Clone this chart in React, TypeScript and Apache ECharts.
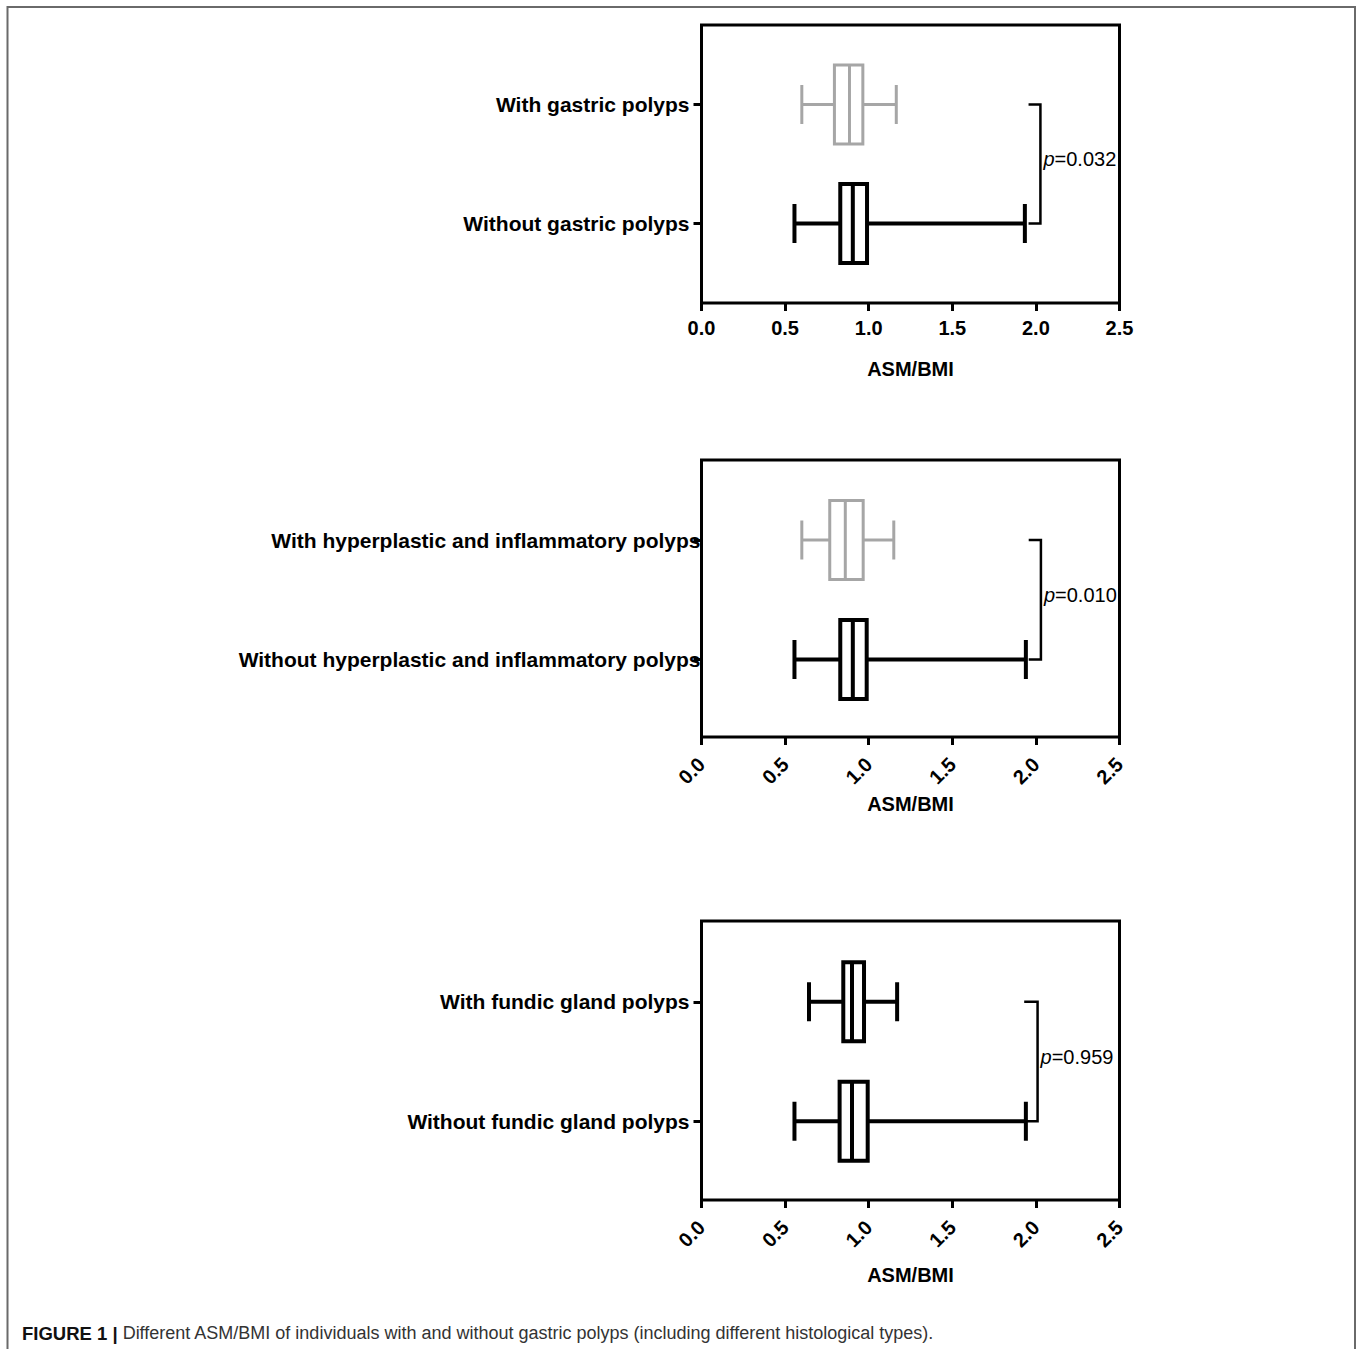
import React, { useEffect, useRef } from "react";
import * as echarts from "echarts";

// ---------- data ----------
const xTicks = [0, 0.5, 1.0, 1.5, 2.0, 2.5];
const xAxisTitle = "ASM/BMI";

const categories1 = ["With gastric polyps", "Without gastric polyps"];
const categories2 = [
  "With hyperplastic and inflammatory polyps",
  "Without hyperplastic and inflammatory polyps",
];
const categories3 = ["With fundic gland polyps", "Without fundic gland polyps"];

// [min, q1, median, q3, max]
const box1With = [0.6, 0.795, 0.885, 0.965, 1.165];
const box1Without = [0.556, 0.83, 0.905, 0.99, 1.934];
const box2With = [0.6, 0.767, 0.86, 0.967, 1.15];
const box2Without = [0.556, 0.83, 0.905, 0.988, 1.94];
const box3With = [0.643, 0.848, 0.9, 0.972, 1.17];
const box3Without = [0.556, 0.826, 0.9, 0.994, 1.94];

// bracket x extent [start, end] and p values
const bracket1 = [1.956, 2.027];
const bracket2 = [1.957, 2.03];
const bracket3 = [1.93, 2.01];
const pValues = ["0.032", "0.010", "0.959"];

const captionBold = "FIGURE 1 |";
const captionText =
  " Different ASM/BMI of individuals with and without gastric polyps (including different histological types).";

// ---------- layout ----------
const FONT = "'Liberation Sans', Arial, Helvetica, sans-serif";
const GRAY = "#a6a6a6";
const BLACK = "#000000";

const panels = [
  {
    cats: categories1,
    boxes: [
      { d: box1With, color: GRAY, lw: 3 },
      { d: box1Without, color: BLACK, lw: 4 },
    ],
    bracket: bracket1,
    p: pValues[0],
    frame: { x: 701.5, y: 25, w: 418, h: 278 },
    gridTop: 45,
    gridH: 238,
    rotate: 0,
    labelMargin: 15,
    yLabelMargin: 12,
    nameGap: 56,
  },
  {
    cats: categories2,
    boxes: [
      { d: box2With, color: GRAY, lw: 3 },
      { d: box2Without, color: BLACK, lw: 4 },
    ],
    bracket: bracket2,
    p: pValues[1],
    frame: { x: 701.5, y: 460, w: 418, h: 277 },
    gridTop: 480.25,
    gridH: 239,
    rotate: 45,
    labelMargin: 24,
    yLabelMargin: 1,
    nameGap: 57,
  },
  {
    cats: categories3,
    boxes: [
      { d: box3With, color: BLACK, lw: 4 },
      { d: box3Without, color: BLACK, lw: 4 },
    ],
    bracket: bracket3,
    p: pValues[2],
    frame: { x: 701.5, y: 921, w: 418, h: 279 },
    gridTop: 942,
    gridH: 239,
    rotate: 45,
    labelMargin: 24,
    yLabelMargin: 12,
    nameGap: 65,
  },
];

function makeBoxRender(color: string, lw: number) {
  return (params: any, api: any) => {
    const cat = api.value(0);
    const pMin = api.coord([api.value(1), cat]);
    const pQ1 = api.coord([api.value(2), cat]);
    const pMed = api.coord([api.value(3), cat]);
    const pQ3 = api.coord([api.value(4), cat]);
    const pMax = api.coord([api.value(5), cat]);
    const y = pMin[1];
    const bh = 39.5;
    const ch = 19.5;
    const st = { stroke: color, lineWidth: lw, fill: null };
    return {
      type: "group",
      children: [
        { type: "line", shape: { x1: pMin[0], y1: y, x2: pQ1[0], y2: y }, style: st },
        { type: "line", shape: { x1: pQ3[0], y1: y, x2: pMax[0], y2: y }, style: st },
        { type: "line", shape: { x1: pMin[0], y1: y - ch, x2: pMin[0], y2: y + ch }, style: st },
        { type: "line", shape: { x1: pMax[0], y1: y - ch, x2: pMax[0], y2: y + ch }, style: st },
        {
          type: "rect",
          shape: { x: pQ1[0], y: y - bh, width: pQ3[0] - pQ1[0], height: 2 * bh },
          style: { stroke: color, lineWidth: lw, fill: "#ffffff" },
        },
        { type: "line", shape: { x1: pMed[0], y1: y - bh, x2: pMed[0], y2: y + bh }, style: st },
      ],
    };
  };
}

function makeBracketRender(p: string) {
  return (params: any, api: any) => {
    const a = api.coord([api.value(0), 0]);
    const b = api.coord([api.value(1), 0]);
    const c = api.coord([api.value(1), 1]);
    const d = api.coord([api.value(0), 1]);
    return {
      type: "group",
      children: [
        {
          type: "polyline",
          shape: { points: [a, b, c, d] },
          style: { stroke: BLACK, lineWidth: 2.5, fill: null },
        },
        {
          type: "text",
          style: {
            x: b[0] + 3,
            y: (b[1] + c[1]) / 2 - 5,
            text: "{i|p}=" + p,
            rich: { i: { fontStyle: "italic", fontSize: 20, fontFamily: FONT, fill: BLACK } },
            fontSize: 20,
            fontFamily: FONT,
            fill: BLACK,
            verticalAlign: "middle",
            align: "left",
          },
        },
      ],
    };
  };
}

export default function App() {
  const ref = useRef<HTMLDivElement>(null);

  useEffect(() => {
    if (!ref.current) return;
    const chart = echarts.init(ref.current, undefined, { renderer: "svg" });

    const grids: any[] = [];
    const xAxes: any[] = [];
    const yAxes: any[] = [];
    const series: any[] = [];
    const graphics: any[] = [];

    panels.forEach((pn, i) => {
      grids.push({
        left: pn.frame.x,
        top: pn.gridTop,
        width: pn.frame.w,
        height: pn.gridH,
        containLabel: false,
      });
      const gridBottom = pn.gridTop + pn.gridH;
      xAxes.push({
        gridIndex: i,
        type: "value",
        min: xTicks[0],
        max: xTicks[xTicks.length - 1],
        interval: xTicks[1] - xTicks[0],
        offset: pn.frame.y + pn.frame.h - gridBottom,
        axisLine: { show: false },
        axisTick: { show: true, length: 8, lineStyle: { color: BLACK, width: 3 } },
        splitLine: { show: false },
        axisLabel: {
          show: true,
          showMinLabel: true,
          showMaxLabel: true,
          rotate: pn.rotate,
          margin: pn.labelMargin,
          fontFamily: FONT,
          fontWeight: "bold",
          fontSize: 20,
          color: BLACK,
          formatter: (v: number) => v.toFixed(1),
        },
        name: xAxisTitle,
        nameLocation: "middle",
        nameGap: pn.nameGap,
        nameTextStyle: { fontFamily: FONT, fontWeight: "bold", fontSize: 20, color: BLACK },
      });
      yAxes.push({
        gridIndex: i,
        type: "category",
        data: pn.cats,
        inverse: true,
        axisLine: { show: false },
        axisTick: { show: true, alignWithLabel: true, length: 8, lineStyle: { color: BLACK, width: 3 } },
        splitLine: { show: false },
        axisLabel: {
          margin: pn.yLabelMargin,
          fontFamily: FONT,
          fontWeight: "bold",
          fontSize: 21,
          color: BLACK,
        },
      });
      pn.boxes.forEach((bx, k) => {
        series.push({
          type: "custom",
          xAxisIndex: i,
          yAxisIndex: i,
          renderItem: makeBoxRender(bx.color, bx.lw),
          encode: { x: [1, 2, 3, 4, 5], y: 0 },
          data: [[k, ...bx.d]],
          silent: true,
          z: 3,
        });
      });
      series.push({
        type: "custom",
        xAxisIndex: i,
        yAxisIndex: i,
        renderItem: makeBracketRender(pn.p),
        encode: { x: [0, 1] },
        data: [[pn.bracket[0], pn.bracket[1]]],
        silent: true,
        clip: false,
        z: 3,
      });
      graphics.push({
        type: "rect",
        shape: { x: pn.frame.x, y: pn.frame.y, width: pn.frame.w, height: pn.frame.h },
        style: { stroke: BLACK, lineWidth: 3, fill: null },
        z: 10,
        silent: true,
      });
    });

    // outer page frame
    graphics.push({
      type: "polyline",
      shape: { points: [[7.5, 1349], [7.5, 7], [1355, 7], [1355, 1349]] },
      style: { stroke: "#6a6a6a", lineWidth: 2, fill: null },
      silent: true,
    });
    // caption
    graphics.push({
      type: "text",
      x: 22,
      y: 1333,
      style: {
        text: "{b|" + captionBold + "}{r|" + captionText + "}",
        rich: {
          b: { fontFamily: FONT, fontWeight: "bold", fontSize: 18.5, fill: "#111111" },
          r: { fontFamily: FONT, fontSize: 18, fill: "#333333" },
        },
        verticalAlign: "middle",
        align: "left",
      },
      silent: true,
    });

    chart.setOption({
      animation: false,
      backgroundColor: "#ffffff",
      grid: grids,
      xAxis: xAxes,
      yAxis: yAxes,
      series,
      graphic: graphics,
    });

    return () => chart.dispose();
  }, []);

  return (
    <div
      ref={ref}
      style={{ position: "absolute", left: 0, top: 0, width: 1358, height: 1349 }}
    />
  );
}
